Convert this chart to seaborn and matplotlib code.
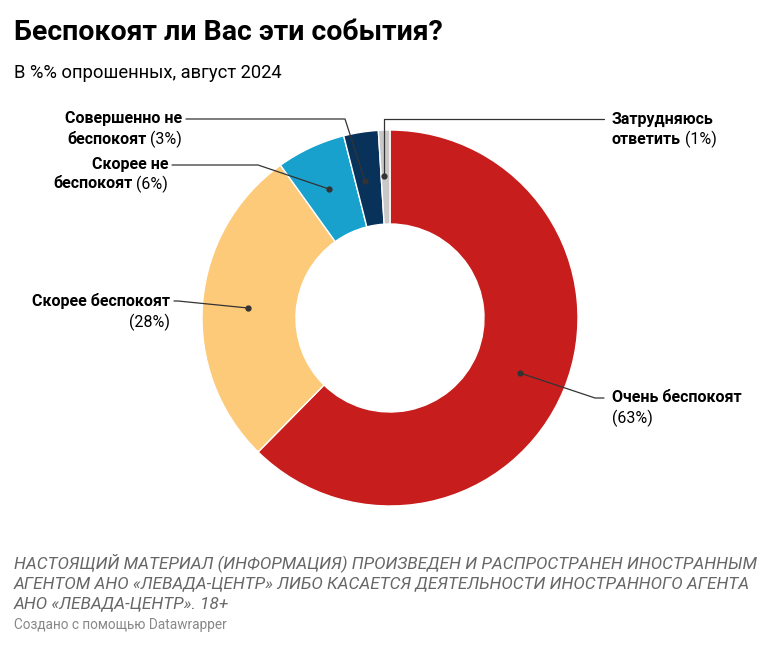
import matplotlib
matplotlib.use("Agg")
import matplotlib.pyplot as plt
import seaborn as sns

sns.set_theme(style="white", font="Roboto", rc={"text.color": "black"})

categories = ["Очень беспокоят", "Скорее беспокоят", "Скорее не беспокоят",
              "Совершенно не беспокоят", "Затрудняюсь ответить"]
values = [63, 28, 6, 3, 1]
colors = ["#c71e1d", "#fdca7a", "#18a1cd", "#09325b", "#c8c8c8"]

fig = plt.figure(figsize=(7.8, 6.48), dpi=100, facecolor="white")

# donut
ax = fig.add_axes([202 / 780, (648 - 506) / 648, 376 / 780, 376 / 648])
ax.pie(values, colors=colors, startangle=90, counterclock=False,
       wedgeprops=dict(width=0.5, edgecolor="white", linewidth=1))
ax.set_xlim(-1, 1); ax.set_ylim(-1, 1)
ax.set_aspect("equal")

# overlay in pixel coords
ov = fig.add_axes([0, 0, 1, 1], facecolor="none")
ov.set_xlim(0, 780); ov.set_ylim(648, 0); ov.axis("off")
renderer = fig.canvas.get_renderer()
FS = 11.5

def mixed(x, y, bold, reg, ha="left"):
    """bold part followed by regular part on one line"""
    t1 = ov.text(x, y, bold, fontsize=FS, fontweight="bold", va="center", ha="left")
    w1 = t1.get_window_extent(renderer).width
    t2 = ov.text(x, y, reg, fontsize=FS, va="center", ha="left")
    w2 = t2.get_window_extent(renderer).width
    if ha == "right":
        x0 = x - (w1 + w2)
        t1.set_x(x0); t2.set_x(x0 + w1)
    else:
        t2.set_x(x + w1)

def leader(pts):
    xs, ys = zip(*pts)
    ov.plot(xs, ys, color="#333333", lw=0.9)
    ov.plot(xs[0], ys[0], "o", color="#333333", ms=3.5)

# title / subtitle
ov.text(14, 32, "Беспокоят ли Вас эти события?", fontsize=20.5, fontweight="bold", va="center")
ov.text(14, 73, "В %% опрошенных, август 2024", fontsize=13.2, va="center")

# labels
leader([(520, 373), (595, 398), (604, 398)])
mixed(612, 398, "Очень беспокоят", "")
ov.text(612, 418, "(63%)", fontsize=FS, va="center")

leader([(248, 308), (178, 301), (174, 301)])
mixed(170, 301, "Скорее беспокоят", "", ha="right")
ov.text(170, 322, "(28%)", fontsize=FS, va="center", ha="right")

leader([(329, 189), (258, 165), (172, 165)])
mixed(168, 165, "Скорее не", "", ha="right")
mixed(168, 184, "беспокоят", " (6%)", ha="right")

leader([(365, 181), (345, 119), (186, 119)])
mixed(182, 119, "Совершенно не", "", ha="right")
mixed(182, 139, "беспокоят", " (3%)", ha="right")

leader([(384, 176), (384, 119), (604, 119)])
mixed(612, 119, "Затрудняюсь", "")
mixed(612, 139, "ответить", " (1%)")

# footer
foot = ("НАСТОЯЩИЙ МАТЕРИАЛ (ИНФОРМАЦИЯ) ПРОИЗВЕДЕН И РАСПРОСТРАНЕН ИНОСТРАННЫМ\n"
        "АГЕНТОМ АНО «ЛЕВАДА-ЦЕНТР» ЛИБО КАСАЕТСЯ ДЕЯТЕЛЬНОСТИ ИНОСТРАННОГО АГЕНТА\n"
        "АНО «ЛЕВАДА-ЦЕНТР». 18+")
ov.text(14, 553, foot, fontsize=12.3, style="italic", color="#666666", va="top",
        linespacing=1.4)
ov.text(14, 625, "Создано с помощью Datawrapper", fontsize=9.8, color="#888888", va="center")

fig.savefig("out.png", dpi=100, facecolor="white")
